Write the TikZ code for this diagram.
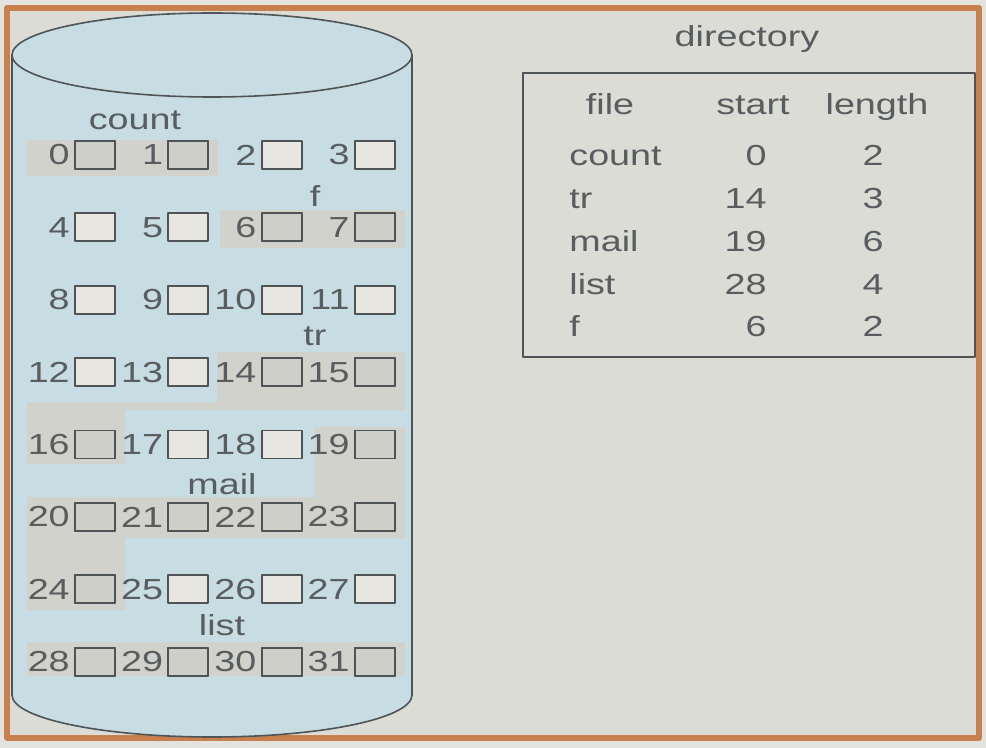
\documentclass[tikz,border=0pt]{standalone}
\usepackage{fontspec}
\setmainfont{Liberation Sans}[FakeStretch=1.3]
\definecolor{outside}{HTML}{E3E4DF}
\definecolor{paper}{HTML}{DCDCD6}
\definecolor{rim}{HTML}{C8804F}
\definecolor{disk}{HTML}{C7DDE3}
\definecolor{band}{HTML}{D2D2CD}
\definecolor{ink}{HTML}{4E5356}
\definecolor{textgray}{HTML}{595D60}
\definecolor{freeblk}{HTML}{E8E6E1}
\definecolor{usedblk}{HTML}{CFCFCA}
\begin{document}
\begin{tikzpicture}[x=0.5pt, y=-0.5pt, font=\fontsize{14.5}{17}\selectfont, text=textgray, line join=round, line cap=round,
	every node/.style={inner sep=0pt},
	blk/.style={draw=ink, line width=0.9pt, fill=freeblk, minimum width=20pt, minimum height=14pt},
	used/.style={blk, fill=usedblk},
	num/.style={anchor=east, inner sep=2pt}]
	\useasboundingbox (0,0) rectangle (986,748);
	\fill[outside] (0,0) rectangle (986,748);
	\draw[rim, line width=2.8pt, fill=paper] (7,8) rectangle (979,738);
	\fill[disk] (12,55) -- (12,695) arc[start angle=180, end angle=0, x radius=200, y radius=42] -- (412,55) -- cycle;
	\draw[ink, line width=0.8pt] (12,55) -- (12,695) arc[start angle=180, end angle=0, x radius=200, y radius=42] -- (412,55);
	\draw[ink, line width=0.8pt, fill=disk] (212,55) ellipse[x radius=200, y radius=42];
	\foreach \a/\b/\c/\d in {27/140/218/176, 220/210/405/248, 217/352/405/410, 27/402/405/410, 27/402/125/464,
		315/427/405/500, 27/497/405/538, 27/538/125/610, 27/642/405/676}
		\fill[band] (\a,\b) rectangle (\c,\d);
	\foreach \n in {0,...,31} {
		\pgfmathsetmacro\bx{95+93.3*mod(\n,4)}
		\pgfmathsetmacro\by{155+72.4*int(\n/4)}
		\node[blk] (b\n) at (\bx,\by) {};
		\node[num] (n\n) at (b\n.west) {\n};}
	\foreach \n in {0,1,6,7,14,15,16,19,20,21,22,23,24,28,29,30,31}
		\node[used] (u\n) at (b\n) {};
	\foreach \t/\x/\y in {count/135/130, f/315/207, tr/315/346, mail/222/495, list/222/636}
		\node[anchor=base] (lab\t) at (\x,\y) {\t};
	\draw[ink, line width=1.1pt] (523,73) rectangle (975,357);
	\node[anchor=base] (dir) at (747,47) {directory};
	\node[anchor=base] (hfile) at (610,115) {file};
	\node[anchor=base] (hstart) at (753,115) {start};
	\node[anchor=base] (hlen) at (877,115) {length};
	\foreach \f/\s/\l [count=\i from 0] in {count/0/2, tr/14/3, mail/19/6, list/28/4, f/6/2} {
		\pgfmathsetmacro\ty{166+42.7*\i}
		\node[anchor=base west] (fn\f) at (569,\ty) {\f};
		\node[anchor=base east] (st\f) at (767,\ty) {\s};
		\node[anchor=base] (len\f) at (873,\ty) {\l};}
\end{tikzpicture}
\end{document}
